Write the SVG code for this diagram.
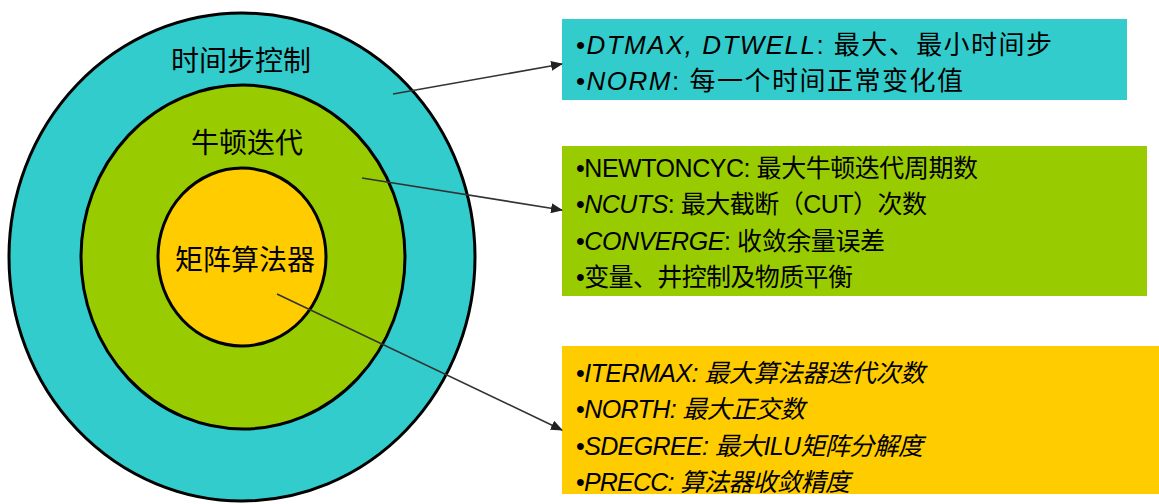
<svg xmlns="http://www.w3.org/2000/svg" width="1159" height="504" viewBox="0 0 1159 504">
<style>
.ring{stroke:#000;stroke-width:3}
.lbl{font-family:"Liberation Sans","Noto Sans CJK SC",sans-serif;font-size:28px;fill:#000;text-anchor:middle}
.t{font-family:"Liberation Sans","Noto Sans CJK SC",sans-serif;font-size:26px;fill:#000}
.s{font-size:25px}
.i{font-style:italic}
.conn{stroke:#333;stroke-width:1.6;fill:none}
</style>
<defs>
<marker id="ah" markerWidth="12" markerHeight="10" refX="11" refY="5" orient="auto" markerUnits="userSpaceOnUse">
<path d="M0,0 L12,5 L0,10 Z" fill="#222"/>
</marker>
</defs>
<rect width="1159" height="504" fill="#fff"/>
<g id="ring-time">
<ellipse class="ring" cx="242" cy="257" rx="233" ry="244" fill="#33CCCC"/>
<text class="lbl" x="241" y="71">时间步控制</text>
</g>
<g id="ring-newton">
<ellipse class="ring" cx="243" cy="257" rx="162" ry="172" fill="#99CC00"/>
<text class="lbl" x="247" y="153">牛顿迭代</text>
</g>
<g id="ring-matrix">
<ellipse class="ring" cx="242" cy="257" rx="84" ry="89" fill="#FFCC00"/>
<text class="lbl" x="245" y="270">矩阵算法器</text>
</g>
<g id="box-time">
<rect x="562" y="19" width="565" height="81" fill="#33CCCC"/>
<text class="t" x="576" y="54" textLength="476">•<tspan class="i">DTMAX, DTWELL</tspan>: 最大、最小时间步</text>
<text class="t" x="576" y="90" textLength="387">•<tspan class="i">NORM</tspan>: 每一个时间正常变化值</text>
</g>
<g id="box-newton">
<rect x="562" y="146" width="585" height="150" fill="#99CC00"/>
<text class="t s" x="576" y="177" textLength="402">•NEWTONCYC: 最大牛顿迭代周期数</text>
<text class="t s" x="576" y="213" textLength="351">•<tspan class="i">NCUTS</tspan>: 最大截断（CUT）次数</text>
<text class="t s" x="576" y="250" textLength="309">•<tspan class="i">CONVERGE</tspan>: 收敛余量误差</text>
<text class="t s" x="576" y="286" textLength="277">•变量、井控制及物质平衡</text>
</g>
<g id="box-matrix">
<rect x="562" y="346" width="597" height="148" fill="#FFCC00"/>
<text class="t s" x="576" y="382" textLength="349">•<tspan class="i">ITERMAX: 最大算法器迭代次数</tspan></text>
<text class="t s" x="576" y="418" textLength="229">•<tspan class="i">NORTH: 最大正交数</tspan></text>
<text class="t s" x="576" y="455" textLength="347">•<tspan class="i">SDEGREE: 最大ILU矩阵分解度</tspan></text>
<text class="t s" x="576" y="491" textLength="274">•<tspan class="i">PRECC: 算法器收敛精度</tspan></text>
</g>
<g id="connectors">
<line class="conn" x1="393" y1="94" x2="562" y2="64" marker-end="url(#ah)"/>
<line class="conn" x1="362" y1="178" x2="562" y2="210" marker-end="url(#ah)"/>
<line class="conn" x1="277" y1="294" x2="562" y2="430" marker-end="url(#ah)"/>
</g>
</svg>
